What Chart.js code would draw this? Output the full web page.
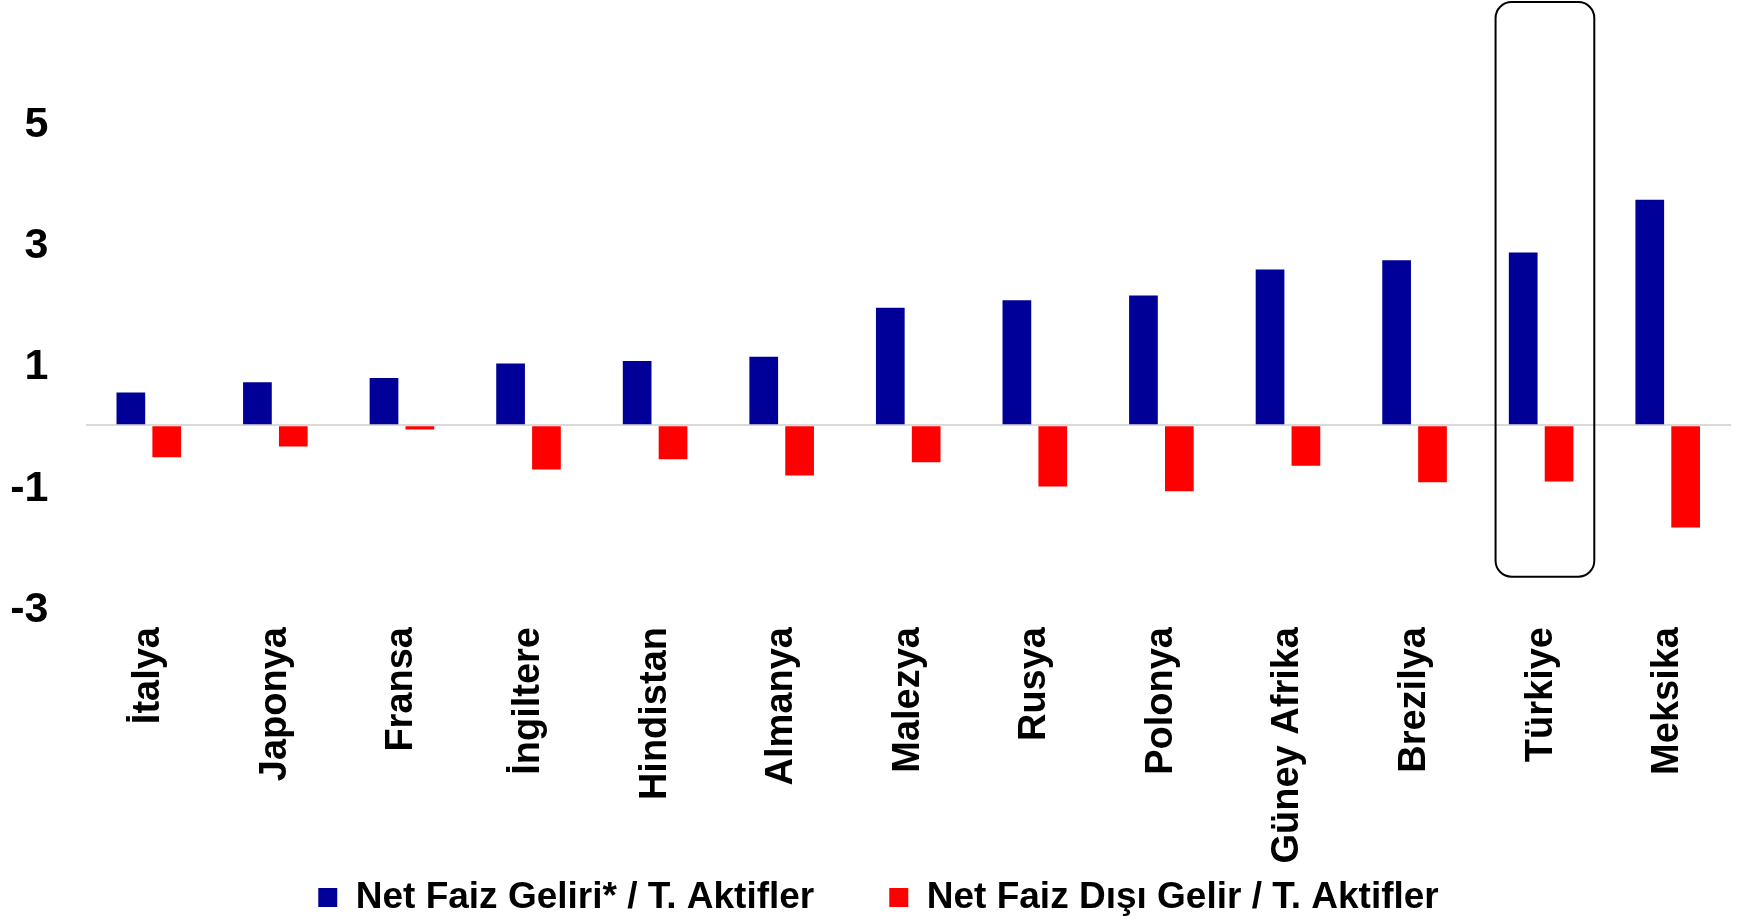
<!DOCTYPE html>
<html lang="tr">
<head>
<meta charset="utf-8">
<title>Net Faiz Geliri / T. Aktifler</title>
<script src="https://cdn.jsdelivr.net/npm/chart.js@4/dist/chart.umd.min.js"></script>
<style>
    html, body { margin: 0; padding: 0; background: #fff; }
    #chartBox { width: 1742px; height: 916px; }
</style>
</head>
<body>
<div id="chartBox">
    <canvas id="ratioChart" width="1742" height="916"></canvas>
</div>
<script>
// Data
const countries = [
    "İtalya", "Japonya", "Fransa", "İngiltere", "Hindistan", "Almanya", "Malezya",
    "Rusya", "Polonya", "Güney Afrika", "Brezilya", "Türkiye", "Meksika",
];
const netInterest = [0.54, 0.71, 0.78, 1.02, 1.06, 1.13, 1.94, 2.06, 2.14, 2.57, 2.72, 2.85, 3.72];
const nonInterest = [-0.53, -0.35, -0.07, -0.73, -0.56, -0.83, -0.61, -1.01, -1.09, -0.67, -0.94, -0.93, -1.69];
const yTicks = [-3, -1, 1, 3, 5];
const highlighted = "Türkiye";

const FONT = "'Liberation Sans', Arial, sans-serif";
Chart.defaults.font.family = FONT;
Chart.defaults.color = "#000";

// Rounded box around the highlighted country
const highlightBox = {
    id: "highlightBox",
    afterDatasetsDraw(chart) {
        const x = chart.scales.x;
        const y = chart.scales.y;
        const i = countries.indexOf(highlighted);
        const w = x.getPixelForValue(1) - x.getPixelForValue(0);
        const cx = x.getPixelForValue(i);
        const left = cx - w * 0.36;
        const right = cx + w * 0.42;
        const top = chart.chartArea.top + 1;
        const bottom = y.getPixelForValue(-2.5);
        const ctx = chart.ctx;
        ctx.save();
        ctx.strokeStyle = "#000";
        ctx.lineWidth = 2;
        ctx.beginPath();
        ctx.roundRect(left, top, right - left, bottom - top, 16);
        ctx.stroke();
        ctx.restore();
    },
};

// Legend placement (wide gap between items, centred a bit right)
const legendPlace = {
    id: "legendPlace",
    afterLayout(chart) {
        const lg = chart.legend;
        lg.left = 26;
        lg.top = 879 - lg.options.labels.padding;
    },
};

// Bar Chart
const ratioCtx = document.getElementById("ratioChart").getContext("2d");
new Chart(ratioCtx, {
    type: "bar",
    data: {
        labels: countries,
        datasets: [
            {
                label: "Net Faiz Geliri* / T. Aktifler",
                data: netInterest,
                backgroundColor: "#000099",
                categoryPercentage: 0.567,
                barPercentage: 0.8,
            },
            {
                label: "Net Faiz Dışı Gelir / T. Aktifler",
                data: nonInterest,
                backgroundColor: "#ff0000",
                categoryPercentage: 0.567,
                barPercentage: 0.8,
            },
        ],
    },
    options: {
        responsive: false,
        animation: false,
        layout: {
            padding: { left: 0, right: 11, top: 1, bottom: 0 },
        },
        plugins: {
            tooltip: { enabled: false },
            legend: {
                position: "bottom",
                maxHeight: 53,
                labels: {
                    boxWidth: 19,
                    boxHeight: 19,
                    padding: 75,
                    color: "#000",
                    font: { size: 37, weight: "bold", family: FONT },
                },
            },
        },
        scales: {
            x: {
                grid: { display: false },
                border: { display: false },
                ticks: {
                    minRotation: 90,
                    maxRotation: 90,
                    autoSkip: false,
                    padding: 12,
                    color: "#000",
                    font: { size: 38, weight: "bold", family: FONT },
                },
                afterFit: (scale) => {
                    scale.height = 256;
                },
            },
            y: {
                min: -3,
                max: 7,
                border: { display: false },
                grid: {
                    drawTicks: true,
                    tickLength: 37,
                    tickColor: "rgba(0,0,0,0)",
                    lineWidth: 2,
                    color: (c) => (c.tick && c.tick.value === 0 ? "#d9d9d9" : "rgba(0,0,0,0)"),
                },
                ticks: {
                    padding: 0,
                    labelOffset: 3,
                    color: "#000",
                    font: (c) =>
                        c.tick && c.tick.value === 7
                            ? { size: 1, family: FONT }
                            : { size: 43, weight: "bold", family: FONT },
                    callback: (value) => (yTicks.includes(value) ? value : ""),
                },
                afterBuildTicks: (scale) => {
                    const values = yTicks.concat([0, 7]).sort((a, b) => a - b);
                    scale.ticks = values.map((v) => ({ value: v }));
                },
                afterFit: (scale) => {
                    scale.width = 85.5;
                },
            },
        },
    },
    plugins: [highlightBox, legendPlace],
});
</script>
</body>
</html>
